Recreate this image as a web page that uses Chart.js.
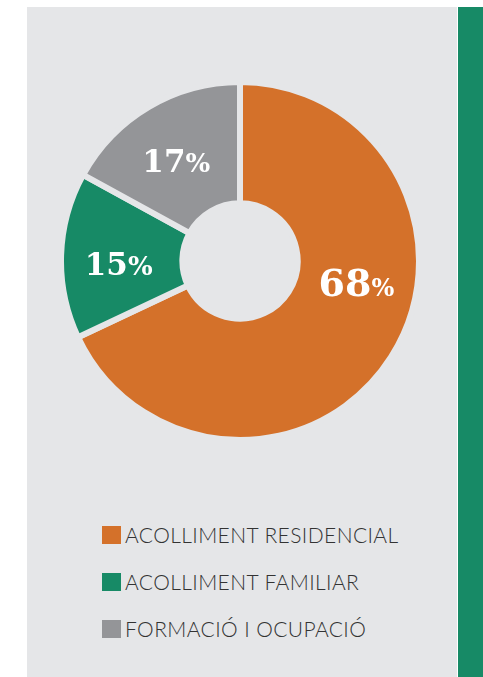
<!DOCTYPE html>
<html>
<head>
<meta charset="utf-8">
<script src="https://cdn.jsdelivr.net/npm/chart.js@4"></script>
<style>
  body { margin: 0; background: #fff; width: 483px; height: 677px; position: relative; overflow: hidden; }
  .panel { position: absolute; left: 27px; top: 7px; width: 430px; height: 670px; background: #e5e6e8; }
  .side { position: absolute; left: 458px; top: 7px; width: 25px; height: 670px; background: #178a66; }
  .chart-box { position: absolute; left: 60px; top: 81px; width: 360px; height: 360px; }
  .legend { position: absolute; left: 102px; top: 526px; font-family: Lato, sans-serif; font-weight: 300; font-size: 21px; letter-spacing: 0.4px; color: #333; }
  .legend-item { height: 18px; line-height: 18px; margin-bottom: 29px; display: flex; align-items: center; white-space: nowrap; }
  .legend-box { width: 19px; height: 18px; margin-right: 4px; flex: none; }
</style>
</head>
<body>
<div class="panel"></div>
<div class="side"></div>
<div class="chart-box"><canvas id="share-chart"></canvas></div>
<div class="legend" id="legend"></div>
<script>
//
// Data
//
const categories = ['ACOLLIMENT RESIDENCIAL', 'ACOLLIMENT FAMILIAR', 'FORMACIÓ I OCUPACIÓ'];
const shares = [68, 15, 17];
const sliceColors = ['#d4712a', '#178a66', '#949598'];

// label angle tweak (degrees) per slice, the big one sits higher than its middle
const labelShift = [-22, -3, -2];

const bgColor = '#e5e6e8';

//
// Percent labels drawn on the arcs
//
const percentLabels = {
    id: 'percentLabels',
    afterDatasetsDraw(chart) {
        const ctx = chart.ctx;
        const arcs = chart.getDatasetMeta(0).data;
        arcs.forEach((arc, i) => {
            const p = arc.getProps(['x', 'y', 'startAngle', 'endAngle', 'innerRadius', 'outerRadius'], true);
            const mid = (p.startAngle + p.endAngle) / 2 + labelShift[i] * Math.PI / 180;
            const r = (p.innerRadius + p.outerRadius) / 2 + (i === 1 ? 3 : 0);
            const cx = p.x + Math.cos(mid) * r;
            const cy = p.y + Math.sin(mid) * r;

            const big = shares[i] > 50;
            const numSize = big ? 38 : 31;
            const numFont = 'bold ' + numSize + 'px "DejaVu Serif", serif';
            const pctFont = 'bold ' + (big ? 24 : 26) + 'px "DejaVu Serif", serif';
            ctx.save();
            ctx.fillStyle = '#ffffff';
            ctx.textBaseline = 'alphabetic';
            ctx.textAlign = 'left';
            ctx.font = numFont;
            const numW = ctx.measureText(String(shares[i])).width;
            ctx.font = pctFont;
            const pctW = ctx.measureText('%').width;
            const startX = cx - (numW + pctW) / 2;
            const base = cy + numSize * 0.36;
            ctx.font = numFont;
            ctx.fillText(String(shares[i]), startX, base);
            ctx.font = pctFont;
            ctx.fillText('%', startX + numW, base);
            ctx.restore();
        });
    }
};

const shareCanvas = document.getElementById('share-chart');

let shareData = {
    labels: categories,
    datasets: [{
        data: shares,
        backgroundColor: sliceColors,
        borderColor: bgColor,
        borderWidth: 6
    }]
};

let shareOptions = {
    responsive: true,
    maintainAspectRatio: false,
    animation: false,
    radius: 179,
    cutout: 57,
    layout: { padding: 0 },
    plugins: {
        legend: { display: false },
        tooltip: { enabled: false }
    }
};

let shareChart = new Chart(shareCanvas, {
    type: 'doughnut',
    data: shareData,
    options: shareOptions,
    plugins: [percentLabels]
});

//
// Legend
//
const legendEl = document.getElementById('legend');
categories.forEach((name, i) => {
    const item = document.createElement('div');
    item.className = 'legend-item';
    const box = document.createElement('span');
    box.className = 'legend-box';
    box.style.background = sliceColors[i];
    const txt = document.createElement('span');
    txt.textContent = name;
    item.appendChild(box);
    item.appendChild(txt);
    legendEl.appendChild(item);
});
</script>
</body>
</html>
